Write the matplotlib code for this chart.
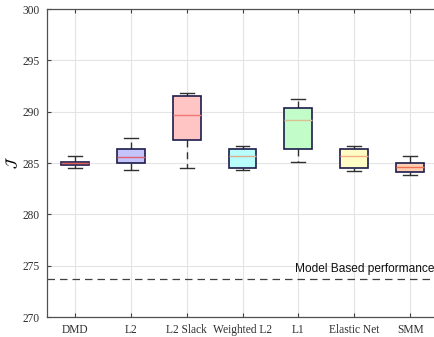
import matplotlib
matplotlib.use("Agg")
import matplotlib.pyplot as plt

categories = ["DMD", "L2", "L2 Slack", "Weighted L2", "L1", "Elastic Net", "SMM"]
medians = [284.97, 285.56, 289.71, 285.71, 289.22, 285.71, 284.61]
q1 = [284.78, 285.00, 287.24, 284.51, 286.36, 284.51, 284.12]
q3 = [285.13, 286.33, 291.49, 286.33, 290.39, 286.33, 285.00]
whisk_lo = [284.48, 284.35, 284.48, 284.29, 285.10, 284.25, 283.80]
whisk_hi = [285.71, 287.47, 291.85, 286.63, 291.23, 286.63, 285.68]
fill_colors = ["#f2a5a5", "#c4c4fa", "#ffc4c4", "#b8fcfc", "#c2fcc9", "#fffcc6", "#ffcfb4"]
median_colors = ["#e06060", "#e06070", "#f07878", "#d8b090", "#d8c090", "#f4b080", "#f07050"]
model_based = 273.7
yticks = [270, 275, 280, 285, 290, 295, 300]

fig = plt.figure(figsize=(4.34, 3.37), dpi=100)
ax = fig.add_axes([47/434, 1-317/337, (438-47)/434, (317-9)/337])

stats = []
for i, c in enumerate(categories):
    stats.append(dict(label=c, med=medians[i], q1=q1[i], q3=q3[i],
                      whislo=whisk_lo[i], whishi=whisk_hi[i], fliers=[]))

bp = ax.bxp(stats, positions=range(1, len(categories)+1), widths=0.5,
            patch_artist=True, showfliers=False,
            boxprops=dict(edgecolor="#1c1c4c", linewidth=1.2),
            whiskerprops=dict(color="#303030", linewidth=1.0, linestyle=(0, (5, 3.5))),
            capprops=dict(color="#303030", linewidth=1.0),
            medianprops=dict(linewidth=1.0), capwidths=0.25)
for patch, fc in zip(bp["boxes"], fill_colors):
    patch.set_facecolor(fc)
    patch.set_zorder(3)
for med, mc in zip(bp["medians"], median_colors):
    med.set_color(mc)
    med.set_zorder(4)

ax.axhline(model_based, color="#404040", linestyle=(0, (6, 4)), linewidth=0.9, zorder=2)
ax.text(7.44, model_based + 0.4, "Model Based performance", ha="right", va="bottom",
        fontsize=8.6, family="Liberation Sans", color="#111111")

ax.set_xlim(0.5, 7.5)
ax.set_ylim(270, 300)
ax.set_yticks(yticks)
ax.set_xticks(range(1, len(categories)+1))
ax.set_xticklabels(categories)
for lbl in ax.get_xticklabels() + ax.get_yticklabels():
    lbl.set_family("Liberation Serif")
    lbl.set_fontsize(8.3)
    lbl.set_color("#303030")
ax.set_ylabel(r"$\mathcal{J}$", fontsize=10, labelpad=2)
ax.grid(True, color="#e4e4e4", linewidth=0.8, zorder=0)
ax.set_axisbelow(True)
ax.tick_params(direction="in", top=True, right=True, length=3, width=0.8, color="#404040", pad=5)
for s in ax.spines.values():
    s.set_color("#505050")
    s.set_linewidth(0.9)

fig.savefig("out.png", dpi=100)
